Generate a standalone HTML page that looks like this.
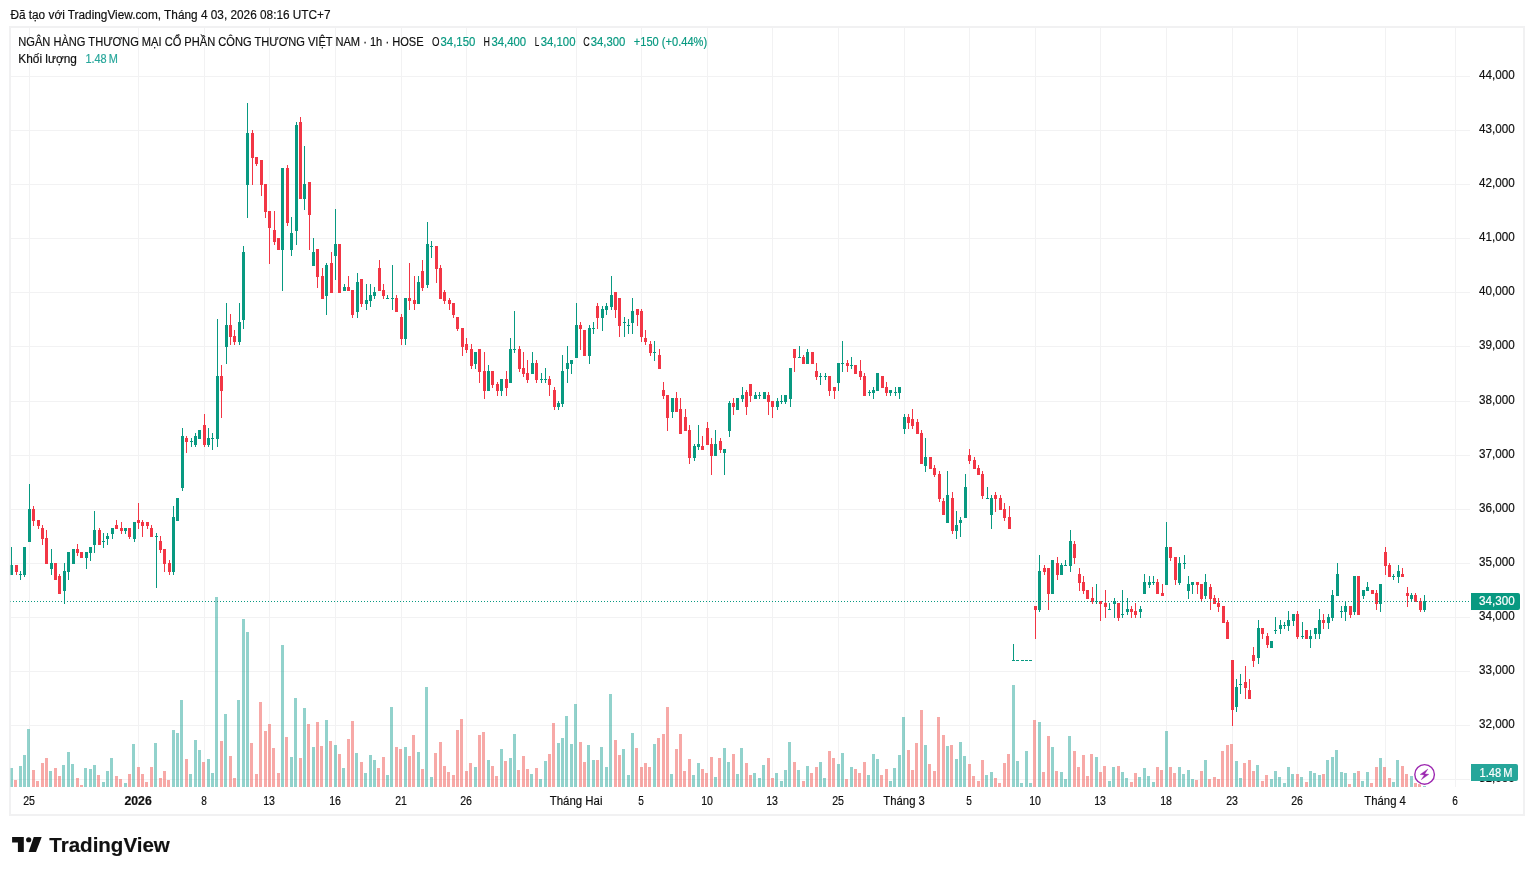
<!DOCTYPE html>
<html lang="vi"><head><meta charset="utf-8"><title>CTG 1h - TradingView</title>
<style>
html,body{margin:0;padding:0;background:#fff;width:1534px;height:875px;overflow:hidden}
svg{display:block}
text{font-family:"Liberation Sans",sans-serif;font-size:12px;fill:#101010;stroke:#101010;stroke-width:.18px}
.g{fill:#089981}.r{fill:#f23645}.vg{fill:#26a69a;fill-opacity:.5}.vr{fill:#ef5350;fill-opacity:.5}.gr{fill:#f2f2f3}
</style></head>
<body>
<svg width="1534" height="875" viewBox="0 0 1534 875">
<rect width="1534" height="875" fill="#fff"/>
<text x="10.4" y="19.0" textLength="320.2" lengthAdjust="spacingAndGlyphs">Đã tạo với TradingView.com, Tháng 4 03, 2026 08:16 UTC+7</text>
<g shape-rendering="crispEdges">
<rect x="9" y="26" width="1516" height="2" fill="#f1f1f2"/><rect x="9" y="814" width="1516" height="2" fill="#f1f1f2"/><rect x="9" y="26" width="2" height="790" fill="#f1f1f2"/><rect x="1523" y="26" width="2" height="790" fill="#f1f1f2"/>
<g class="gr"><rect x="29" y="28" width="1" height="759"/><rect x="138" y="28" width="1" height="759"/><rect x="204" y="28" width="1" height="759"/><rect x="269" y="28" width="1" height="759"/><rect x="335" y="28" width="1" height="759"/><rect x="401" y="28" width="1" height="759"/><rect x="466" y="28" width="1" height="759"/><rect x="576" y="28" width="1" height="759"/><rect x="641" y="28" width="1" height="759"/><rect x="707" y="28" width="1" height="759"/><rect x="772" y="28" width="1" height="759"/><rect x="838" y="28" width="1" height="759"/><rect x="904" y="28" width="1" height="759"/><rect x="969" y="28" width="1" height="759"/><rect x="1035" y="28" width="1" height="759"/><rect x="1100" y="28" width="1" height="759"/><rect x="1166" y="28" width="1" height="759"/><rect x="1232" y="28" width="1" height="759"/><rect x="1297" y="28" width="1" height="759"/><rect x="1385" y="28" width="1" height="759"/><rect x="1455" y="28" width="1" height="759"/><rect x="11" y="76" width="1459" height="1"/><rect x="11" y="130" width="1459" height="1"/><rect x="11" y="184" width="1459" height="1"/><rect x="11" y="238" width="1459" height="1"/><rect x="11" y="292" width="1459" height="1"/><rect x="11" y="346" width="1459" height="1"/><rect x="11" y="401" width="1459" height="1"/><rect x="11" y="455" width="1459" height="1"/><rect x="11" y="509" width="1459" height="1"/><rect x="11" y="563" width="1459" height="1"/><rect x="11" y="617" width="1459" height="1"/><rect x="11" y="671" width="1459" height="1"/><rect x="11" y="725" width="1459" height="1"/><rect x="11" y="779" width="1459" height="1"/></g>
<g class="vg"><rect x="10" y="768" width="1" height="19" opacity=".5"/><rect x="11" y="768" width="2" height="19"/><rect x="19" y="766" width="3" height="21"/><rect x="23" y="755" width="3" height="32"/><rect x="27" y="729" width="3" height="58"/><rect x="49" y="771" width="3" height="16"/><rect x="62" y="765" width="3" height="22"/><rect x="67" y="752" width="3" height="35"/><rect x="71" y="764" width="3" height="23"/><rect x="84" y="768" width="3" height="19"/><rect x="89" y="769" width="3" height="18"/><rect x="93" y="765" width="3" height="22"/><rect x="102" y="782" width="3" height="5"/><rect x="106" y="771" width="3" height="16"/><rect x="110" y="758" width="3" height="29"/><rect x="124" y="783" width="3" height="4"/><rect x="132" y="744" width="3" height="43"/><rect x="154" y="743" width="3" height="44"/><rect x="172" y="730" width="3" height="57"/><rect x="176" y="733" width="3" height="54"/><rect x="180" y="700" width="3" height="87"/><rect x="189" y="774" width="3" height="13"/><rect x="194" y="740" width="3" height="47"/><rect x="198" y="750" width="3" height="37"/><rect x="207" y="759" width="3" height="28"/><rect x="211" y="773" width="3" height="14"/><rect x="215" y="597" width="3" height="190"/><rect x="224" y="714" width="3" height="73"/><rect x="237" y="700" width="3" height="87"/><rect x="242" y="619" width="3" height="168"/><rect x="246" y="632" width="3" height="155"/><rect x="281" y="645" width="3" height="142"/><rect x="290" y="757" width="3" height="30"/><rect x="294" y="698" width="3" height="89"/><rect x="303" y="708" width="3" height="79"/><rect x="312" y="747" width="3" height="40"/><rect x="325" y="720" width="3" height="67"/><rect x="334" y="745" width="3" height="42"/><rect x="342" y="768" width="3" height="19"/><rect x="355" y="753" width="3" height="34"/><rect x="364" y="773" width="3" height="14"/><rect x="369" y="755" width="3" height="32"/><rect x="373" y="760" width="3" height="27"/><rect x="386" y="775" width="3" height="12"/><rect x="390" y="707" width="3" height="80"/><rect x="404" y="747" width="3" height="40"/><rect x="417" y="752" width="3" height="35"/><rect x="425" y="687" width="3" height="100"/><rect x="430" y="777" width="3" height="10"/><rect x="474" y="767" width="3" height="20"/><rect x="487" y="760" width="3" height="27"/><rect x="500" y="749" width="3" height="38"/><rect x="509" y="758" width="3" height="29"/><rect x="513" y="734" width="3" height="53"/><rect x="530" y="774" width="3" height="13"/><rect x="539" y="779" width="3" height="8"/><rect x="544" y="761" width="3" height="26"/><rect x="557" y="743" width="3" height="44"/><rect x="561" y="738" width="3" height="49"/><rect x="565" y="716" width="3" height="71"/><rect x="570" y="744" width="3" height="43"/><rect x="574" y="704" width="3" height="83"/><rect x="587" y="745" width="3" height="42"/><rect x="592" y="760" width="3" height="27"/><rect x="600" y="747" width="3" height="40"/><rect x="605" y="767" width="3" height="20"/><rect x="609" y="694" width="3" height="93"/><rect x="622" y="749" width="3" height="38"/><rect x="627" y="775" width="3" height="12"/><rect x="631" y="733" width="3" height="54"/><rect x="653" y="744" width="3" height="43"/><rect x="670" y="774" width="3" height="13"/><rect x="692" y="775" width="3" height="12"/><rect x="697" y="763" width="3" height="24"/><rect x="714" y="777" width="3" height="10"/><rect x="723" y="748" width="3" height="39"/><rect x="727" y="762" width="3" height="25"/><rect x="736" y="774" width="3" height="13"/><rect x="740" y="748" width="3" height="39"/><rect x="753" y="773" width="3" height="14"/><rect x="758" y="778" width="3" height="9"/><rect x="762" y="765" width="3" height="22"/><rect x="775" y="773" width="3" height="14"/><rect x="780" y="781" width="3" height="6"/><rect x="784" y="770" width="3" height="17"/><rect x="788" y="742" width="3" height="45"/><rect x="797" y="770" width="3" height="17"/><rect x="806" y="766" width="3" height="21"/><rect x="819" y="762" width="3" height="25"/><rect x="823" y="778" width="3" height="9"/><rect x="837" y="764" width="3" height="23"/><rect x="841" y="753" width="3" height="34"/><rect x="850" y="767" width="3" height="20"/><rect x="867" y="775" width="3" height="12"/><rect x="872" y="754" width="3" height="33"/><rect x="876" y="759" width="3" height="28"/><rect x="889" y="781" width="3" height="6"/><rect x="893" y="768" width="3" height="19"/><rect x="898" y="755" width="3" height="32"/><rect x="902" y="717" width="3" height="70"/><rect x="924" y="745" width="3" height="42"/><rect x="946" y="746" width="3" height="41"/><rect x="955" y="759" width="3" height="28"/><rect x="959" y="742" width="3" height="45"/><rect x="963" y="756" width="3" height="31"/><rect x="985" y="775" width="3" height="12"/><rect x="990" y="772" width="3" height="15"/><rect x="1012" y="685" width="3" height="102"/><rect x="1016" y="761" width="3" height="26"/><rect x="1020" y="783" width="3" height="4"/><rect x="1025" y="751" width="3" height="36"/><rect x="1029" y="783" width="3" height="4"/><rect x="1038" y="722" width="3" height="65"/><rect x="1051" y="747" width="3" height="40"/><rect x="1060" y="772" width="3" height="15"/><rect x="1064" y="779" width="3" height="8"/><rect x="1068" y="736" width="3" height="51"/><rect x="1095" y="757" width="3" height="30"/><rect x="1108" y="781" width="3" height="6"/><rect x="1112" y="767" width="3" height="20"/><rect x="1121" y="772" width="3" height="15"/><rect x="1125" y="778" width="3" height="9"/><rect x="1138" y="777" width="3" height="10"/><rect x="1143" y="768" width="3" height="19"/><rect x="1147" y="776" width="3" height="11"/><rect x="1152" y="782" width="3" height="5"/><rect x="1165" y="731" width="3" height="56"/><rect x="1178" y="767" width="3" height="20"/><rect x="1182" y="774" width="3" height="13"/><rect x="1187" y="770" width="3" height="17"/><rect x="1191" y="779" width="3" height="8"/><rect x="1204" y="760" width="3" height="27"/><rect x="1235" y="761" width="3" height="26"/><rect x="1239" y="778" width="3" height="9"/><rect x="1256" y="765" width="3" height="22"/><rect x="1270" y="779" width="3" height="8"/><rect x="1274" y="771" width="3" height="16"/><rect x="1278" y="777" width="3" height="10"/><rect x="1283" y="783" width="3" height="4"/><rect x="1287" y="767" width="3" height="20"/><rect x="1291" y="774" width="3" height="13"/><rect x="1300" y="777" width="3" height="10"/><rect x="1309" y="771" width="3" height="16"/><rect x="1313" y="773" width="3" height="14"/><rect x="1318" y="775" width="3" height="12"/><rect x="1326" y="760" width="3" height="27"/><rect x="1331" y="757" width="3" height="30"/><rect x="1335" y="750" width="3" height="37"/><rect x="1340" y="772" width="3" height="15"/><rect x="1344" y="773" width="3" height="14"/><rect x="1353" y="773" width="3" height="14"/><rect x="1361" y="781" width="3" height="6"/><rect x="1366" y="772" width="3" height="15"/><rect x="1379" y="758" width="3" height="29"/><rect x="1392" y="782" width="3" height="5"/><rect x="1396" y="760" width="3" height="27"/><rect x="1410" y="776" width="3" height="11"/><rect x="1423" y="786" width="3" height="1"/></g>
<g class="vr"><rect x="14" y="780" width="3" height="7"/><rect x="32" y="770" width="3" height="17"/><rect x="36" y="781" width="3" height="6"/><rect x="41" y="763" width="3" height="24"/><rect x="45" y="758" width="3" height="29"/><rect x="54" y="768" width="3" height="19"/><rect x="58" y="776" width="3" height="11"/><rect x="76" y="778" width="3" height="9"/><rect x="80" y="785" width="3" height="2"/><rect x="97" y="775" width="3" height="12"/><rect x="115" y="776" width="3" height="11"/><rect x="119" y="779" width="3" height="8"/><rect x="128" y="774" width="3" height="13"/><rect x="137" y="767" width="3" height="20"/><rect x="141" y="774" width="3" height="13"/><rect x="145" y="782" width="3" height="5"/><rect x="150" y="767" width="3" height="20"/><rect x="159" y="778" width="3" height="9"/><rect x="163" y="771" width="3" height="16"/><rect x="167" y="780" width="3" height="7"/><rect x="185" y="759" width="3" height="28"/><rect x="202" y="762" width="3" height="25"/><rect x="220" y="741" width="3" height="46"/><rect x="229" y="756" width="3" height="31"/><rect x="233" y="778" width="3" height="9"/><rect x="250" y="743" width="3" height="44"/><rect x="255" y="774" width="3" height="13"/><rect x="259" y="702" width="3" height="85"/><rect x="264" y="731" width="3" height="56"/><rect x="268" y="724" width="3" height="63"/><rect x="272" y="748" width="3" height="39"/><rect x="277" y="773" width="3" height="14"/><rect x="285" y="737" width="3" height="50"/><rect x="299" y="758" width="3" height="29"/><rect x="307" y="724" width="3" height="63"/><rect x="316" y="722" width="3" height="65"/><rect x="320" y="746" width="3" height="41"/><rect x="329" y="741" width="3" height="46"/><rect x="338" y="754" width="3" height="33"/><rect x="347" y="739" width="3" height="48"/><rect x="351" y="721" width="3" height="66"/><rect x="360" y="762" width="3" height="25"/><rect x="377" y="768" width="3" height="19"/><rect x="382" y="757" width="3" height="30"/><rect x="395" y="747" width="3" height="40"/><rect x="399" y="749" width="3" height="38"/><rect x="408" y="756" width="3" height="31"/><rect x="412" y="735" width="3" height="52"/><rect x="421" y="769" width="3" height="18"/><rect x="434" y="753" width="3" height="34"/><rect x="439" y="742" width="3" height="45"/><rect x="443" y="766" width="3" height="21"/><rect x="447" y="772" width="3" height="15"/><rect x="452" y="775" width="3" height="12"/><rect x="456" y="730" width="3" height="57"/><rect x="460" y="719" width="3" height="68"/><rect x="465" y="771" width="3" height="16"/><rect x="469" y="763" width="3" height="24"/><rect x="478" y="735" width="3" height="52"/><rect x="482" y="732" width="3" height="55"/><rect x="491" y="766" width="3" height="21"/><rect x="495" y="776" width="3" height="11"/><rect x="504" y="761" width="3" height="26"/><rect x="517" y="770" width="3" height="17"/><rect x="522" y="756" width="3" height="31"/><rect x="526" y="769" width="3" height="18"/><rect x="535" y="768" width="3" height="19"/><rect x="548" y="754" width="3" height="33"/><rect x="552" y="723" width="3" height="64"/><rect x="579" y="742" width="3" height="45"/><rect x="583" y="762" width="3" height="25"/><rect x="596" y="760" width="3" height="27"/><rect x="614" y="740" width="3" height="47"/><rect x="618" y="755" width="3" height="32"/><rect x="635" y="748" width="3" height="39"/><rect x="640" y="767" width="3" height="20"/><rect x="644" y="763" width="3" height="24"/><rect x="648" y="767" width="3" height="20"/><rect x="657" y="738" width="3" height="49"/><rect x="662" y="734" width="3" height="53"/><rect x="666" y="707" width="3" height="80"/><rect x="675" y="749" width="3" height="38"/><rect x="679" y="734" width="3" height="53"/><rect x="683" y="771" width="3" height="16"/><rect x="688" y="759" width="3" height="28"/><rect x="701" y="769" width="3" height="18"/><rect x="705" y="773" width="3" height="14"/><rect x="710" y="757" width="3" height="30"/><rect x="718" y="758" width="3" height="29"/><rect x="732" y="754" width="3" height="33"/><rect x="745" y="763" width="3" height="24"/><rect x="749" y="775" width="3" height="12"/><rect x="767" y="758" width="3" height="29"/><rect x="771" y="778" width="3" height="9"/><rect x="793" y="762" width="3" height="25"/><rect x="802" y="781" width="3" height="6"/><rect x="810" y="773" width="3" height="14"/><rect x="815" y="767" width="3" height="20"/><rect x="828" y="751" width="3" height="36"/><rect x="832" y="758" width="3" height="29"/><rect x="845" y="779" width="3" height="8"/><rect x="854" y="769" width="3" height="18"/><rect x="858" y="773" width="3" height="14"/><rect x="863" y="762" width="3" height="25"/><rect x="880" y="775" width="3" height="12"/><rect x="885" y="769" width="3" height="18"/><rect x="907" y="750" width="3" height="37"/><rect x="911" y="770" width="3" height="17"/><rect x="915" y="743" width="3" height="44"/><rect x="920" y="710" width="3" height="77"/><rect x="928" y="764" width="3" height="23"/><rect x="933" y="771" width="3" height="16"/><rect x="937" y="717" width="3" height="70"/><rect x="942" y="735" width="3" height="52"/><rect x="950" y="745" width="3" height="42"/><rect x="968" y="764" width="3" height="23"/><rect x="972" y="776" width="3" height="11"/><rect x="977" y="781" width="3" height="6"/><rect x="981" y="760" width="3" height="27"/><rect x="994" y="778" width="3" height="9"/><rect x="998" y="783" width="3" height="4"/><rect x="1003" y="763" width="3" height="24"/><rect x="1007" y="754" width="3" height="33"/><rect x="1033" y="720" width="3" height="67"/><rect x="1042" y="772" width="3" height="15"/><rect x="1047" y="736" width="3" height="51"/><rect x="1055" y="771" width="3" height="16"/><rect x="1073" y="751" width="3" height="36"/><rect x="1077" y="767" width="3" height="20"/><rect x="1082" y="755" width="3" height="32"/><rect x="1086" y="776" width="3" height="11"/><rect x="1090" y="754" width="3" height="33"/><rect x="1099" y="772" width="3" height="15"/><rect x="1103" y="766" width="3" height="21"/><rect x="1117" y="766" width="3" height="21"/><rect x="1130" y="782" width="3" height="5"/><rect x="1134" y="773" width="3" height="14"/><rect x="1156" y="767" width="3" height="20"/><rect x="1160" y="770" width="3" height="17"/><rect x="1169" y="767" width="3" height="20"/><rect x="1173" y="773" width="3" height="14"/><rect x="1195" y="780" width="3" height="7"/><rect x="1200" y="771" width="3" height="16"/><rect x="1208" y="779" width="3" height="8"/><rect x="1213" y="777" width="3" height="10"/><rect x="1217" y="779" width="3" height="8"/><rect x="1221" y="751" width="3" height="36"/><rect x="1226" y="745" width="3" height="42"/><rect x="1230" y="744" width="3" height="43"/><rect x="1243" y="763" width="3" height="24"/><rect x="1248" y="760" width="3" height="27"/><rect x="1252" y="771" width="3" height="16"/><rect x="1261" y="781" width="3" height="6"/><rect x="1265" y="775" width="3" height="12"/><rect x="1296" y="774" width="3" height="13"/><rect x="1305" y="782" width="3" height="5"/><rect x="1322" y="774" width="3" height="13"/><rect x="1348" y="784" width="3" height="3"/><rect x="1357" y="771" width="3" height="16"/><rect x="1370" y="783" width="3" height="4"/><rect x="1375" y="767" width="3" height="20"/><rect x="1383" y="767" width="3" height="20"/><rect x="1388" y="778" width="3" height="9"/><rect x="1401" y="766" width="3" height="21"/><rect x="1405" y="774" width="3" height="13"/><rect x="1414" y="783" width="3" height="4"/><rect x="1418" y="784" width="3" height="3"/></g>
<g class="g"><rect x="11" y="547" width="1" height="28"/><rect x="10" y="565" width="1" height="10" opacity=".5"/><rect x="11" y="565" width="2" height="10"/><rect x="20" y="571" width="1" height="9"/><rect x="19" y="574" width="3" height="1"/><rect x="24" y="547" width="1" height="30"/><rect x="23" y="547" width="3" height="28"/><rect x="29" y="484" width="1" height="58"/><rect x="28" y="509" width="3" height="33"/><rect x="51" y="549" width="1" height="26"/><rect x="50" y="563" width="3" height="6"/><rect x="64" y="563" width="1" height="41"/><rect x="63" y="571" width="3" height="20"/><rect x="68" y="552" width="1" height="28"/><rect x="67" y="552" width="3" height="20"/><rect x="72" y="549" width="3" height="15"/><rect x="86" y="552" width="1" height="17"/><rect x="85" y="552" width="3" height="6"/><rect x="90" y="547" width="1" height="14"/><rect x="89" y="547" width="3" height="6"/><rect x="94" y="511" width="1" height="42"/><rect x="93" y="530" width="3" height="15"/><rect x="103" y="533" width="1" height="15"/><rect x="102" y="541" width="3" height="1"/><rect x="107" y="533" width="1" height="12"/><rect x="106" y="536" width="3" height="3"/><rect x="112" y="528" width="1" height="11"/><rect x="111" y="528" width="3" height="6"/><rect x="125" y="528" width="1" height="6"/><rect x="124" y="528" width="3" height="3"/><rect x="134" y="522" width="1" height="20"/><rect x="133" y="522" width="3" height="17"/><rect x="156" y="533" width="1" height="55"/><rect x="155" y="536" width="3" height="1"/><rect x="173" y="506" width="1" height="69"/><rect x="172" y="517" width="3" height="55"/><rect x="176" y="498" width="3" height="23"/><rect x="182" y="428" width="1" height="63"/><rect x="181" y="436" width="3" height="52"/><rect x="191" y="438" width="1" height="9"/><rect x="190" y="441" width="3" height="1"/><rect x="195" y="433" width="1" height="14"/><rect x="194" y="436" width="3" height="9"/><rect x="198" y="430" width="3" height="9"/><rect x="208" y="428" width="1" height="19"/><rect x="207" y="438" width="3" height="7"/><rect x="212" y="433" width="1" height="17"/><rect x="211" y="438" width="3" height="1"/><rect x="217" y="319" width="1" height="128"/><rect x="216" y="376" width="3" height="63"/><rect x="226" y="303" width="1" height="61"/><rect x="225" y="325" width="3" height="22"/><rect x="239" y="303" width="1" height="42"/><rect x="238" y="322" width="3" height="20"/><rect x="243" y="246" width="1" height="83"/><rect x="242" y="252" width="3" height="68"/><rect x="247" y="103" width="1" height="115"/><rect x="246" y="133" width="3" height="52"/><rect x="282" y="168" width="1" height="123"/><rect x="281" y="168" width="3" height="82"/><rect x="291" y="217" width="1" height="39"/><rect x="290" y="233" width="3" height="17"/><rect x="296" y="122" width="1" height="123"/><rect x="295" y="125" width="3" height="106"/><rect x="304" y="146" width="1" height="64"/><rect x="303" y="184" width="3" height="15"/><rect x="313" y="238" width="1" height="28"/><rect x="312" y="252" width="3" height="14"/><rect x="326" y="263" width="1" height="52"/><rect x="325" y="265" width="3" height="31"/><rect x="335" y="209" width="1" height="71"/><rect x="334" y="244" width="3" height="12"/><rect x="344" y="284" width="1" height="7"/><rect x="343" y="287" width="3" height="4"/><rect x="357" y="273" width="1" height="45"/><rect x="356" y="282" width="3" height="30"/><rect x="366" y="284" width="1" height="26"/><rect x="365" y="300" width="3" height="4"/><rect x="370" y="284" width="1" height="23"/><rect x="369" y="295" width="3" height="6"/><rect x="374" y="287" width="1" height="12"/><rect x="373" y="292" width="3" height="4"/><rect x="387" y="295" width="1" height="4"/><rect x="386" y="298" width="3" height="1"/><rect x="392" y="265" width="1" height="45"/><rect x="391" y="298" width="3" height="1"/><rect x="405" y="298" width="1" height="47"/><rect x="404" y="298" width="3" height="41"/><rect x="418" y="276" width="1" height="28"/><rect x="417" y="282" width="3" height="22"/><rect x="427" y="222" width="1" height="66"/><rect x="426" y="244" width="3" height="41"/><rect x="431" y="241" width="1" height="17"/><rect x="430" y="246" width="3" height="1"/><rect x="475" y="352" width="1" height="17"/><rect x="474" y="352" width="3" height="12"/><rect x="488" y="365" width="1" height="26"/><rect x="487" y="371" width="3" height="20"/><rect x="501" y="379" width="1" height="17"/><rect x="500" y="379" width="3" height="12"/><rect x="510" y="338" width="1" height="45"/><rect x="509" y="349" width="3" height="34"/><rect x="514" y="311" width="1" height="42"/><rect x="513" y="349" width="3" height="1"/><rect x="532" y="352" width="1" height="22"/><rect x="531" y="363" width="3" height="11"/><rect x="541" y="373" width="1" height="10"/><rect x="540" y="379" width="3" height="1"/><rect x="545" y="368" width="1" height="15"/><rect x="544" y="379" width="3" height="1"/><rect x="558" y="401" width="1" height="9"/><rect x="557" y="403" width="3" height="4"/><rect x="562" y="355" width="1" height="52"/><rect x="561" y="371" width="3" height="33"/><rect x="567" y="346" width="1" height="37"/><rect x="566" y="363" width="3" height="6"/><rect x="571" y="360" width="1" height="14"/><rect x="570" y="360" width="3" height="4"/><rect x="576" y="303" width="1" height="55"/><rect x="575" y="325" width="3" height="33"/><rect x="589" y="325" width="1" height="39"/><rect x="588" y="328" width="3" height="28"/><rect x="593" y="322" width="1" height="12"/><rect x="592" y="328" width="3" height="1"/><rect x="602" y="306" width="1" height="25"/><rect x="601" y="309" width="3" height="9"/><rect x="606" y="303" width="1" height="12"/><rect x="605" y="306" width="3" height="4"/><rect x="611" y="276" width="1" height="34"/><rect x="610" y="295" width="3" height="12"/><rect x="624" y="317" width="1" height="20"/><rect x="623" y="322" width="3" height="1"/><rect x="628" y="319" width="1" height="15"/><rect x="627" y="325" width="3" height="1"/><rect x="632" y="298" width="1" height="36"/><rect x="631" y="311" width="3" height="12"/><rect x="654" y="341" width="1" height="20"/><rect x="653" y="352" width="3" height="1"/><rect x="672" y="398" width="1" height="20"/><rect x="671" y="398" width="3" height="14"/><rect x="694" y="444" width="1" height="17"/><rect x="693" y="446" width="3" height="12"/><rect x="698" y="425" width="1" height="25"/><rect x="697" y="444" width="3" height="3"/><rect x="715" y="430" width="1" height="26"/><rect x="714" y="444" width="3" height="12"/><rect x="724" y="449" width="1" height="26"/><rect x="723" y="449" width="3" height="4"/><rect x="729" y="401" width="1" height="36"/><rect x="728" y="403" width="3" height="28"/><rect x="736" y="398" width="3" height="12"/><rect x="742" y="387" width="1" height="15"/><rect x="741" y="395" width="3" height="4"/><rect x="755" y="392" width="1" height="7"/><rect x="754" y="395" width="3" height="4"/><rect x="759" y="392" width="1" height="7"/><rect x="758" y="395" width="3" height="1"/><rect x="763" y="392" width="3" height="7"/><rect x="777" y="398" width="1" height="12"/><rect x="776" y="401" width="3" height="6"/><rect x="781" y="395" width="1" height="9"/><rect x="780" y="401" width="3" height="1"/><rect x="785" y="395" width="1" height="9"/><rect x="784" y="395" width="3" height="7"/><rect x="790" y="368" width="1" height="39"/><rect x="789" y="368" width="3" height="31"/><rect x="799" y="346" width="1" height="12"/><rect x="798" y="357" width="3" height="1"/><rect x="807" y="349" width="1" height="15"/><rect x="806" y="352" width="3" height="12"/><rect x="820" y="373" width="1" height="12"/><rect x="819" y="376" width="3" height="1"/><rect x="825" y="373" width="1" height="7"/><rect x="824" y="376" width="3" height="1"/><rect x="838" y="363" width="1" height="28"/><rect x="837" y="363" width="3" height="20"/><rect x="842" y="341" width="1" height="31"/><rect x="841" y="363" width="3" height="1"/><rect x="851" y="357" width="1" height="12"/><rect x="850" y="365" width="3" height="1"/><rect x="869" y="390" width="1" height="6"/><rect x="868" y="392" width="3" height="1"/><rect x="873" y="387" width="1" height="12"/><rect x="872" y="390" width="3" height="3"/><rect x="876" y="373" width="3" height="18"/><rect x="890" y="390" width="1" height="6"/><rect x="889" y="390" width="3" height="3"/><rect x="895" y="387" width="1" height="9"/><rect x="894" y="392" width="3" height="1"/><rect x="899" y="387" width="1" height="12"/><rect x="898" y="387" width="3" height="6"/><rect x="904" y="414" width="1" height="20"/><rect x="903" y="417" width="3" height="12"/><rect x="925" y="438" width="1" height="34"/><rect x="924" y="457" width="3" height="9"/><rect x="947" y="471" width="1" height="52"/><rect x="946" y="495" width="3" height="28"/><rect x="956" y="511" width="1" height="28"/><rect x="955" y="525" width="3" height="6"/><rect x="960" y="517" width="1" height="20"/><rect x="959" y="520" width="3" height="3"/><rect x="965" y="474" width="1" height="44"/><rect x="964" y="487" width="3" height="31"/><rect x="987" y="487" width="1" height="12"/><rect x="986" y="498" width="3" height="1"/><rect x="991" y="495" width="1" height="34"/><rect x="990" y="498" width="3" height="17"/><rect x="1013" y="644" width="1" height="17"/><rect x="1012" y="660" width="3" height="1"/><rect x="1016" y="660" width="3" height="1"/><rect x="1021" y="660" width="3" height="1"/><rect x="1025" y="660" width="3" height="1"/><rect x="1029" y="660" width="3" height="1"/><rect x="1039" y="555" width="1" height="57"/><rect x="1038" y="571" width="3" height="39"/><rect x="1051" y="560" width="3" height="34"/><rect x="1061" y="563" width="1" height="12"/><rect x="1060" y="565" width="3" height="10"/><rect x="1065" y="560" width="1" height="6"/><rect x="1064" y="565" width="3" height="1"/><rect x="1070" y="530" width="1" height="42"/><rect x="1069" y="541" width="3" height="25"/><rect x="1096" y="584" width="1" height="20"/><rect x="1095" y="601" width="3" height="1"/><rect x="1109" y="603" width="1" height="7"/><rect x="1108" y="609" width="3" height="1"/><rect x="1114" y="598" width="1" height="20"/><rect x="1113" y="601" width="3" height="3"/><rect x="1122" y="590" width="1" height="28"/><rect x="1121" y="614" width="3" height="1"/><rect x="1127" y="598" width="1" height="17"/><rect x="1126" y="609" width="3" height="3"/><rect x="1140" y="606" width="1" height="12"/><rect x="1139" y="609" width="3" height="3"/><rect x="1144" y="574" width="1" height="20"/><rect x="1143" y="582" width="3" height="12"/><rect x="1149" y="576" width="1" height="12"/><rect x="1148" y="582" width="3" height="3"/><rect x="1153" y="576" width="1" height="9"/><rect x="1152" y="582" width="3" height="1"/><rect x="1166" y="522" width="1" height="63"/><rect x="1165" y="547" width="3" height="38"/><rect x="1179" y="557" width="1" height="28"/><rect x="1178" y="563" width="3" height="20"/><rect x="1184" y="555" width="1" height="14"/><rect x="1183" y="563" width="3" height="1"/><rect x="1188" y="576" width="1" height="23"/><rect x="1187" y="584" width="3" height="7"/><rect x="1192" y="582" width="1" height="12"/><rect x="1191" y="582" width="3" height="3"/><rect x="1205" y="574" width="1" height="25"/><rect x="1204" y="582" width="3" height="14"/><rect x="1236" y="679" width="1" height="33"/><rect x="1235" y="687" width="3" height="20"/><rect x="1240" y="674" width="1" height="20"/><rect x="1239" y="684" width="3" height="1"/><rect x="1258" y="620" width="1" height="44"/><rect x="1257" y="628" width="3" height="30"/><rect x="1270" y="641" width="3" height="7"/><rect x="1275" y="617" width="1" height="17"/><rect x="1274" y="630" width="3" height="1"/><rect x="1280" y="620" width="1" height="14"/><rect x="1279" y="625" width="3" height="4"/><rect x="1284" y="622" width="1" height="7"/><rect x="1283" y="625" width="3" height="1"/><rect x="1288" y="611" width="1" height="20"/><rect x="1287" y="620" width="3" height="6"/><rect x="1293" y="614" width="1" height="12"/><rect x="1292" y="614" width="3" height="7"/><rect x="1302" y="622" width="1" height="17"/><rect x="1301" y="636" width="3" height="1"/><rect x="1310" y="630" width="1" height="18"/><rect x="1309" y="636" width="3" height="3"/><rect x="1315" y="628" width="1" height="11"/><rect x="1314" y="628" width="3" height="6"/><rect x="1319" y="609" width="1" height="30"/><rect x="1318" y="620" width="3" height="14"/><rect x="1328" y="614" width="1" height="15"/><rect x="1327" y="617" width="3" height="6"/><rect x="1332" y="590" width="1" height="31"/><rect x="1331" y="595" width="3" height="23"/><rect x="1337" y="563" width="1" height="33"/><rect x="1336" y="574" width="3" height="22"/><rect x="1341" y="606" width="1" height="12"/><rect x="1340" y="611" width="3" height="1"/><rect x="1345" y="601" width="1" height="20"/><rect x="1344" y="606" width="3" height="6"/><rect x="1354" y="576" width="1" height="39"/><rect x="1353" y="576" width="3" height="36"/><rect x="1363" y="590" width="1" height="9"/><rect x="1362" y="590" width="3" height="6"/><rect x="1367" y="582" width="1" height="9"/><rect x="1366" y="587" width="3" height="4"/><rect x="1380" y="584" width="1" height="28"/><rect x="1379" y="584" width="3" height="20"/><rect x="1393" y="574" width="1" height="6"/><rect x="1392" y="576" width="3" height="1"/><rect x="1398" y="565" width="1" height="18"/><rect x="1397" y="571" width="3" height="6"/><rect x="1411" y="593" width="1" height="9"/><rect x="1410" y="595" width="3" height="4"/><rect x="1424" y="595" width="1" height="17"/><rect x="1423" y="601" width="3" height="9"/></g>
<g class="r"><rect x="16" y="565" width="1" height="10"/><rect x="15" y="565" width="3" height="7"/><rect x="33" y="506" width="1" height="20"/><rect x="32" y="509" width="3" height="12"/><rect x="38" y="520" width="1" height="9"/><rect x="37" y="520" width="3" height="6"/><rect x="42" y="525" width="1" height="20"/><rect x="41" y="528" width="3" height="11"/><rect x="46" y="530" width="1" height="34"/><rect x="45" y="538" width="3" height="26"/><rect x="54" y="563" width="3" height="17"/><rect x="59" y="574" width="1" height="20"/><rect x="58" y="576" width="3" height="18"/><rect x="77" y="544" width="1" height="12"/><rect x="76" y="549" width="3" height="4"/><rect x="80" y="552" width="3" height="6"/><rect x="99" y="528" width="1" height="17"/><rect x="98" y="530" width="3" height="15"/><rect x="116" y="520" width="1" height="9"/><rect x="115" y="525" width="3" height="4"/><rect x="121" y="522" width="1" height="12"/><rect x="120" y="528" width="3" height="3"/><rect x="129" y="528" width="1" height="11"/><rect x="128" y="528" width="3" height="9"/><rect x="138" y="503" width="1" height="26"/><rect x="137" y="520" width="3" height="3"/><rect x="142" y="520" width="1" height="17"/><rect x="141" y="522" width="3" height="4"/><rect x="147" y="522" width="1" height="7"/><rect x="146" y="522" width="3" height="4"/><rect x="151" y="525" width="1" height="12"/><rect x="150" y="528" width="3" height="9"/><rect x="160" y="536" width="1" height="17"/><rect x="159" y="541" width="3" height="9"/><rect x="164" y="549" width="1" height="23"/><rect x="163" y="549" width="3" height="15"/><rect x="169" y="560" width="1" height="15"/><rect x="168" y="563" width="3" height="9"/><rect x="186" y="436" width="1" height="17"/><rect x="185" y="438" width="3" height="4"/><rect x="204" y="414" width="1" height="33"/><rect x="203" y="425" width="3" height="20"/><rect x="221" y="365" width="1" height="53"/><rect x="220" y="376" width="3" height="15"/><rect x="230" y="314" width="1" height="31"/><rect x="229" y="325" width="3" height="12"/><rect x="234" y="330" width="1" height="15"/><rect x="233" y="336" width="3" height="6"/><rect x="252" y="130" width="1" height="55"/><rect x="251" y="133" width="3" height="25"/><rect x="256" y="157" width="1" height="9"/><rect x="255" y="157" width="3" height="7"/><rect x="261" y="160" width="1" height="36"/><rect x="260" y="160" width="3" height="25"/><rect x="265" y="184" width="1" height="34"/><rect x="264" y="184" width="3" height="28"/><rect x="269" y="211" width="1" height="53"/><rect x="268" y="211" width="3" height="17"/><rect x="274" y="211" width="1" height="34"/><rect x="273" y="230" width="3" height="12"/><rect x="277" y="238" width="3" height="12"/><rect x="287" y="165" width="1" height="61"/><rect x="286" y="168" width="3" height="55"/><rect x="300" y="117" width="1" height="82"/><rect x="299" y="122" width="3" height="77"/><rect x="309" y="182" width="1" height="68"/><rect x="308" y="182" width="3" height="33"/><rect x="317" y="249" width="1" height="39"/><rect x="316" y="249" width="3" height="28"/><rect x="322" y="268" width="1" height="31"/><rect x="321" y="276" width="3" height="23"/><rect x="331" y="252" width="1" height="41"/><rect x="330" y="263" width="3" height="30"/><rect x="338" y="244" width="3" height="49"/><rect x="348" y="276" width="1" height="15"/><rect x="347" y="287" width="3" height="4"/><rect x="352" y="290" width="1" height="28"/><rect x="351" y="290" width="3" height="25"/><rect x="361" y="279" width="1" height="28"/><rect x="360" y="279" width="3" height="25"/><rect x="379" y="260" width="1" height="31"/><rect x="378" y="268" width="3" height="23"/><rect x="383" y="284" width="1" height="15"/><rect x="382" y="290" width="3" height="6"/><rect x="396" y="295" width="1" height="17"/><rect x="395" y="298" width="3" height="14"/><rect x="401" y="314" width="1" height="31"/><rect x="400" y="317" width="3" height="22"/><rect x="409" y="263" width="1" height="47"/><rect x="408" y="298" width="3" height="3"/><rect x="414" y="276" width="1" height="34"/><rect x="413" y="300" width="3" height="4"/><rect x="422" y="260" width="1" height="31"/><rect x="421" y="271" width="3" height="17"/><rect x="436" y="246" width="1" height="37"/><rect x="435" y="246" width="3" height="23"/><rect x="440" y="265" width="1" height="34"/><rect x="439" y="268" width="3" height="31"/><rect x="444" y="290" width="1" height="14"/><rect x="443" y="292" width="3" height="9"/><rect x="449" y="298" width="1" height="12"/><rect x="448" y="300" width="3" height="4"/><rect x="453" y="303" width="1" height="15"/><rect x="452" y="303" width="3" height="12"/><rect x="457" y="317" width="1" height="14"/><rect x="456" y="317" width="3" height="12"/><rect x="462" y="328" width="1" height="28"/><rect x="461" y="328" width="3" height="19"/><rect x="466" y="338" width="1" height="15"/><rect x="465" y="344" width="3" height="6"/><rect x="471" y="344" width="1" height="25"/><rect x="470" y="349" width="3" height="17"/><rect x="479" y="349" width="1" height="34"/><rect x="478" y="349" width="3" height="23"/><rect x="484" y="352" width="1" height="47"/><rect x="483" y="371" width="3" height="20"/><rect x="492" y="371" width="1" height="17"/><rect x="491" y="371" width="3" height="14"/><rect x="497" y="382" width="1" height="14"/><rect x="496" y="384" width="3" height="7"/><rect x="506" y="371" width="1" height="25"/><rect x="505" y="379" width="3" height="9"/><rect x="519" y="346" width="1" height="26"/><rect x="518" y="349" width="3" height="20"/><rect x="523" y="352" width="1" height="25"/><rect x="522" y="368" width="3" height="6"/><rect x="527" y="360" width="1" height="23"/><rect x="526" y="373" width="3" height="7"/><rect x="536" y="360" width="1" height="23"/><rect x="535" y="363" width="3" height="17"/><rect x="549" y="376" width="1" height="20"/><rect x="548" y="379" width="3" height="6"/><rect x="554" y="387" width="1" height="23"/><rect x="553" y="390" width="3" height="17"/><rect x="580" y="322" width="1" height="28"/><rect x="579" y="325" width="3" height="4"/><rect x="583" y="330" width="3" height="26"/><rect x="597" y="303" width="1" height="26"/><rect x="596" y="306" width="3" height="12"/><rect x="615" y="292" width="1" height="26"/><rect x="614" y="292" width="3" height="18"/><rect x="619" y="298" width="1" height="39"/><rect x="618" y="298" width="3" height="28"/><rect x="637" y="309" width="1" height="17"/><rect x="636" y="309" width="3" height="6"/><rect x="641" y="309" width="1" height="33"/><rect x="640" y="311" width="3" height="26"/><rect x="645" y="330" width="1" height="15"/><rect x="644" y="338" width="3" height="4"/><rect x="650" y="341" width="1" height="15"/><rect x="649" y="344" width="3" height="9"/><rect x="659" y="349" width="1" height="20"/><rect x="658" y="355" width="3" height="14"/><rect x="663" y="382" width="1" height="17"/><rect x="662" y="390" width="3" height="6"/><rect x="667" y="395" width="1" height="36"/><rect x="666" y="395" width="3" height="23"/><rect x="676" y="392" width="1" height="20"/><rect x="675" y="398" width="3" height="14"/><rect x="680" y="398" width="1" height="36"/><rect x="679" y="409" width="3" height="25"/><rect x="685" y="409" width="1" height="22"/><rect x="684" y="417" width="3" height="14"/><rect x="689" y="425" width="1" height="39"/><rect x="688" y="430" width="3" height="28"/><rect x="702" y="436" width="1" height="14"/><rect x="701" y="446" width="3" height="4"/><rect x="707" y="422" width="1" height="23"/><rect x="706" y="428" width="3" height="17"/><rect x="711" y="438" width="1" height="37"/><rect x="710" y="444" width="3" height="12"/><rect x="720" y="438" width="1" height="15"/><rect x="719" y="441" width="3" height="9"/><rect x="733" y="398" width="1" height="17"/><rect x="732" y="403" width="3" height="4"/><rect x="746" y="390" width="1" height="25"/><rect x="745" y="392" width="3" height="15"/><rect x="750" y="384" width="1" height="18"/><rect x="749" y="384" width="3" height="12"/><rect x="768" y="392" width="1" height="23"/><rect x="767" y="395" width="3" height="7"/><rect x="772" y="401" width="1" height="17"/><rect x="771" y="401" width="3" height="6"/><rect x="794" y="349" width="1" height="23"/><rect x="793" y="349" width="3" height="9"/><rect x="803" y="355" width="1" height="9"/><rect x="802" y="357" width="3" height="7"/><rect x="811" y="352" width="3" height="12"/><rect x="816" y="363" width="1" height="17"/><rect x="815" y="371" width="3" height="6"/><rect x="829" y="376" width="1" height="20"/><rect x="828" y="376" width="3" height="15"/><rect x="834" y="387" width="1" height="12"/><rect x="833" y="387" width="3" height="4"/><rect x="847" y="360" width="1" height="12"/><rect x="846" y="363" width="3" height="3"/><rect x="854" y="365" width="3" height="9"/><rect x="860" y="360" width="1" height="20"/><rect x="859" y="371" width="3" height="6"/><rect x="864" y="373" width="1" height="23"/><rect x="863" y="376" width="3" height="20"/><rect x="881" y="376" width="3" height="12"/><rect x="886" y="382" width="1" height="14"/><rect x="885" y="387" width="3" height="6"/><rect x="908" y="414" width="1" height="15"/><rect x="907" y="417" width="3" height="6"/><rect x="912" y="409" width="1" height="20"/><rect x="911" y="419" width="3" height="7"/><rect x="917" y="419" width="1" height="15"/><rect x="916" y="422" width="3" height="12"/><rect x="921" y="430" width="1" height="34"/><rect x="920" y="433" width="3" height="31"/><rect x="929" y="457" width="3" height="12"/><rect x="934" y="465" width="1" height="12"/><rect x="933" y="468" width="3" height="7"/><rect x="939" y="471" width="1" height="31"/><rect x="938" y="474" width="3" height="25"/><rect x="943" y="498" width="1" height="17"/><rect x="942" y="501" width="3" height="14"/><rect x="952" y="492" width="1" height="42"/><rect x="951" y="498" width="3" height="33"/><rect x="969" y="449" width="1" height="15"/><rect x="968" y="455" width="3" height="6"/><rect x="974" y="457" width="1" height="12"/><rect x="973" y="460" width="3" height="9"/><rect x="978" y="465" width="1" height="10"/><rect x="977" y="468" width="3" height="7"/><rect x="982" y="471" width="1" height="28"/><rect x="981" y="474" width="3" height="22"/><rect x="995" y="492" width="1" height="20"/><rect x="994" y="495" width="3" height="4"/><rect x="1000" y="495" width="1" height="15"/><rect x="999" y="498" width="3" height="12"/><rect x="1004" y="503" width="1" height="18"/><rect x="1003" y="509" width="3" height="9"/><rect x="1009" y="506" width="1" height="23"/><rect x="1008" y="517" width="3" height="12"/><rect x="1035" y="606" width="1" height="33"/><rect x="1034" y="606" width="3" height="4"/><rect x="1044" y="565" width="1" height="10"/><rect x="1043" y="568" width="3" height="4"/><rect x="1048" y="568" width="1" height="42"/><rect x="1047" y="568" width="3" height="26"/><rect x="1057" y="557" width="1" height="23"/><rect x="1056" y="563" width="3" height="12"/><rect x="1074" y="541" width="1" height="23"/><rect x="1073" y="544" width="3" height="14"/><rect x="1079" y="568" width="1" height="23"/><rect x="1078" y="574" width="3" height="9"/><rect x="1083" y="576" width="1" height="18"/><rect x="1082" y="582" width="3" height="9"/><rect x="1086" y="590" width="3" height="9"/><rect x="1092" y="587" width="1" height="17"/><rect x="1091" y="598" width="3" height="4"/><rect x="1100" y="601" width="1" height="20"/><rect x="1099" y="601" width="3" height="3"/><rect x="1105" y="590" width="1" height="28"/><rect x="1104" y="603" width="3" height="4"/><rect x="1118" y="603" width="1" height="18"/><rect x="1117" y="603" width="3" height="15"/><rect x="1131" y="606" width="1" height="12"/><rect x="1130" y="609" width="3" height="3"/><rect x="1135" y="603" width="1" height="15"/><rect x="1134" y="611" width="3" height="4"/><rect x="1157" y="579" width="1" height="15"/><rect x="1156" y="582" width="3" height="12"/><rect x="1162" y="584" width="1" height="12"/><rect x="1161" y="593" width="3" height="3"/><rect x="1170" y="547" width="1" height="14"/><rect x="1169" y="547" width="3" height="11"/><rect x="1175" y="557" width="1" height="28"/><rect x="1174" y="557" width="3" height="23"/><rect x="1197" y="582" width="1" height="12"/><rect x="1196" y="582" width="3" height="3"/><rect x="1201" y="584" width="1" height="18"/><rect x="1200" y="584" width="3" height="15"/><rect x="1210" y="584" width="1" height="26"/><rect x="1209" y="587" width="3" height="12"/><rect x="1214" y="595" width="1" height="9"/><rect x="1213" y="598" width="3" height="6"/><rect x="1218" y="598" width="1" height="14"/><rect x="1217" y="603" width="3" height="4"/><rect x="1222" y="606" width="3" height="17"/><rect x="1227" y="620" width="1" height="19"/><rect x="1226" y="622" width="3" height="17"/><rect x="1232" y="660" width="1" height="66"/><rect x="1231" y="660" width="3" height="50"/><rect x="1245" y="666" width="1" height="33"/><rect x="1244" y="682" width="3" height="6"/><rect x="1249" y="679" width="1" height="20"/><rect x="1248" y="690" width="3" height="9"/><rect x="1253" y="647" width="1" height="20"/><rect x="1252" y="655" width="3" height="6"/><rect x="1262" y="628" width="1" height="11"/><rect x="1261" y="628" width="3" height="6"/><rect x="1267" y="633" width="1" height="15"/><rect x="1266" y="636" width="3" height="9"/><rect x="1297" y="611" width="1" height="28"/><rect x="1296" y="614" width="3" height="23"/><rect x="1305" y="630" width="3" height="9"/><rect x="1323" y="614" width="1" height="15"/><rect x="1322" y="620" width="3" height="3"/><rect x="1350" y="606" width="1" height="12"/><rect x="1349" y="606" width="3" height="9"/><rect x="1357" y="576" width="3" height="39"/><rect x="1371" y="590" width="3" height="4"/><rect x="1376" y="590" width="1" height="20"/><rect x="1375" y="593" width="3" height="11"/><rect x="1385" y="547" width="1" height="28"/><rect x="1384" y="552" width="3" height="14"/><rect x="1389" y="563" width="1" height="14"/><rect x="1388" y="565" width="3" height="12"/><rect x="1402" y="568" width="1" height="9"/><rect x="1401" y="574" width="3" height="3"/><rect x="1407" y="587" width="1" height="20"/><rect x="1406" y="593" width="3" height="3"/><rect x="1415" y="593" width="1" height="9"/><rect x="1414" y="595" width="3" height="7"/><rect x="1420" y="598" width="1" height="14"/><rect x="1419" y="601" width="3" height="9"/></g>
<g class="g"><rect x="10" y="601" width="1" height="1" opacity=".5"/><rect x="13" y="601" width="1" height="1"/><rect x="16" y="601" width="1" height="1"/><rect x="19" y="601" width="1" height="1"/><rect x="22" y="601" width="1" height="1"/><rect x="25" y="601" width="1" height="1"/><rect x="28" y="601" width="1" height="1"/><rect x="31" y="601" width="1" height="1"/><rect x="34" y="601" width="1" height="1"/><rect x="37" y="601" width="1" height="1"/><rect x="40" y="601" width="1" height="1"/><rect x="43" y="601" width="1" height="1"/><rect x="46" y="601" width="1" height="1"/><rect x="49" y="601" width="1" height="1"/><rect x="52" y="601" width="1" height="1"/><rect x="55" y="601" width="1" height="1"/><rect x="58" y="601" width="1" height="1"/><rect x="61" y="601" width="1" height="1"/><rect x="64" y="601" width="1" height="1"/><rect x="67" y="601" width="1" height="1"/><rect x="70" y="601" width="1" height="1"/><rect x="73" y="601" width="1" height="1"/><rect x="76" y="601" width="1" height="1"/><rect x="79" y="601" width="1" height="1"/><rect x="82" y="601" width="1" height="1"/><rect x="85" y="601" width="1" height="1"/><rect x="88" y="601" width="1" height="1"/><rect x="91" y="601" width="1" height="1"/><rect x="94" y="601" width="1" height="1"/><rect x="97" y="601" width="1" height="1"/><rect x="100" y="601" width="1" height="1"/><rect x="103" y="601" width="1" height="1"/><rect x="106" y="601" width="1" height="1"/><rect x="109" y="601" width="1" height="1"/><rect x="112" y="601" width="1" height="1"/><rect x="115" y="601" width="1" height="1"/><rect x="118" y="601" width="1" height="1"/><rect x="121" y="601" width="1" height="1"/><rect x="124" y="601" width="1" height="1"/><rect x="127" y="601" width="1" height="1"/><rect x="130" y="601" width="1" height="1"/><rect x="133" y="601" width="1" height="1"/><rect x="136" y="601" width="1" height="1"/><rect x="139" y="601" width="1" height="1"/><rect x="142" y="601" width="1" height="1"/><rect x="145" y="601" width="1" height="1"/><rect x="148" y="601" width="1" height="1"/><rect x="151" y="601" width="1" height="1"/><rect x="154" y="601" width="1" height="1"/><rect x="157" y="601" width="1" height="1"/><rect x="160" y="601" width="1" height="1"/><rect x="163" y="601" width="1" height="1"/><rect x="166" y="601" width="1" height="1"/><rect x="169" y="601" width="1" height="1"/><rect x="172" y="601" width="1" height="1"/><rect x="175" y="601" width="1" height="1"/><rect x="178" y="601" width="1" height="1"/><rect x="181" y="601" width="1" height="1"/><rect x="184" y="601" width="1" height="1"/><rect x="187" y="601" width="1" height="1"/><rect x="190" y="601" width="1" height="1"/><rect x="193" y="601" width="1" height="1"/><rect x="196" y="601" width="1" height="1"/><rect x="199" y="601" width="1" height="1"/><rect x="202" y="601" width="1" height="1"/><rect x="205" y="601" width="1" height="1"/><rect x="208" y="601" width="1" height="1"/><rect x="211" y="601" width="1" height="1"/><rect x="214" y="601" width="1" height="1"/><rect x="217" y="601" width="1" height="1"/><rect x="220" y="601" width="1" height="1"/><rect x="223" y="601" width="1" height="1"/><rect x="226" y="601" width="1" height="1"/><rect x="229" y="601" width="1" height="1"/><rect x="232" y="601" width="1" height="1"/><rect x="235" y="601" width="1" height="1"/><rect x="238" y="601" width="1" height="1"/><rect x="241" y="601" width="1" height="1"/><rect x="244" y="601" width="1" height="1"/><rect x="247" y="601" width="1" height="1"/><rect x="250" y="601" width="1" height="1"/><rect x="253" y="601" width="1" height="1"/><rect x="256" y="601" width="1" height="1"/><rect x="259" y="601" width="1" height="1"/><rect x="262" y="601" width="1" height="1"/><rect x="265" y="601" width="1" height="1"/><rect x="268" y="601" width="1" height="1"/><rect x="271" y="601" width="1" height="1"/><rect x="274" y="601" width="1" height="1"/><rect x="277" y="601" width="1" height="1"/><rect x="280" y="601" width="1" height="1"/><rect x="283" y="601" width="1" height="1"/><rect x="286" y="601" width="1" height="1"/><rect x="289" y="601" width="1" height="1"/><rect x="292" y="601" width="1" height="1"/><rect x="295" y="601" width="1" height="1"/><rect x="298" y="601" width="1" height="1"/><rect x="301" y="601" width="1" height="1"/><rect x="304" y="601" width="1" height="1"/><rect x="307" y="601" width="1" height="1"/><rect x="310" y="601" width="1" height="1"/><rect x="313" y="601" width="1" height="1"/><rect x="316" y="601" width="1" height="1"/><rect x="319" y="601" width="1" height="1"/><rect x="322" y="601" width="1" height="1"/><rect x="325" y="601" width="1" height="1"/><rect x="328" y="601" width="1" height="1"/><rect x="331" y="601" width="1" height="1"/><rect x="334" y="601" width="1" height="1"/><rect x="337" y="601" width="1" height="1"/><rect x="340" y="601" width="1" height="1"/><rect x="343" y="601" width="1" height="1"/><rect x="346" y="601" width="1" height="1"/><rect x="349" y="601" width="1" height="1"/><rect x="352" y="601" width="1" height="1"/><rect x="355" y="601" width="1" height="1"/><rect x="358" y="601" width="1" height="1"/><rect x="361" y="601" width="1" height="1"/><rect x="364" y="601" width="1" height="1"/><rect x="367" y="601" width="1" height="1"/><rect x="370" y="601" width="1" height="1"/><rect x="373" y="601" width="1" height="1"/><rect x="376" y="601" width="1" height="1"/><rect x="379" y="601" width="1" height="1"/><rect x="382" y="601" width="1" height="1"/><rect x="385" y="601" width="1" height="1"/><rect x="388" y="601" width="1" height="1"/><rect x="391" y="601" width="1" height="1"/><rect x="394" y="601" width="1" height="1"/><rect x="397" y="601" width="1" height="1"/><rect x="400" y="601" width="1" height="1"/><rect x="403" y="601" width="1" height="1"/><rect x="406" y="601" width="1" height="1"/><rect x="409" y="601" width="1" height="1"/><rect x="412" y="601" width="1" height="1"/><rect x="415" y="601" width="1" height="1"/><rect x="418" y="601" width="1" height="1"/><rect x="421" y="601" width="1" height="1"/><rect x="424" y="601" width="1" height="1"/><rect x="427" y="601" width="1" height="1"/><rect x="430" y="601" width="1" height="1"/><rect x="433" y="601" width="1" height="1"/><rect x="436" y="601" width="1" height="1"/><rect x="439" y="601" width="1" height="1"/><rect x="442" y="601" width="1" height="1"/><rect x="445" y="601" width="1" height="1"/><rect x="448" y="601" width="1" height="1"/><rect x="451" y="601" width="1" height="1"/><rect x="454" y="601" width="1" height="1"/><rect x="457" y="601" width="1" height="1"/><rect x="460" y="601" width="1" height="1"/><rect x="463" y="601" width="1" height="1"/><rect x="466" y="601" width="1" height="1"/><rect x="469" y="601" width="1" height="1"/><rect x="472" y="601" width="1" height="1"/><rect x="475" y="601" width="1" height="1"/><rect x="478" y="601" width="1" height="1"/><rect x="481" y="601" width="1" height="1"/><rect x="484" y="601" width="1" height="1"/><rect x="487" y="601" width="1" height="1"/><rect x="490" y="601" width="1" height="1"/><rect x="493" y="601" width="1" height="1"/><rect x="496" y="601" width="1" height="1"/><rect x="499" y="601" width="1" height="1"/><rect x="502" y="601" width="1" height="1"/><rect x="505" y="601" width="1" height="1"/><rect x="508" y="601" width="1" height="1"/><rect x="511" y="601" width="1" height="1"/><rect x="514" y="601" width="1" height="1"/><rect x="517" y="601" width="1" height="1"/><rect x="520" y="601" width="1" height="1"/><rect x="523" y="601" width="1" height="1"/><rect x="526" y="601" width="1" height="1"/><rect x="529" y="601" width="1" height="1"/><rect x="532" y="601" width="1" height="1"/><rect x="535" y="601" width="1" height="1"/><rect x="538" y="601" width="1" height="1"/><rect x="541" y="601" width="1" height="1"/><rect x="544" y="601" width="1" height="1"/><rect x="547" y="601" width="1" height="1"/><rect x="550" y="601" width="1" height="1"/><rect x="553" y="601" width="1" height="1"/><rect x="556" y="601" width="1" height="1"/><rect x="559" y="601" width="1" height="1"/><rect x="562" y="601" width="1" height="1"/><rect x="565" y="601" width="1" height="1"/><rect x="568" y="601" width="1" height="1"/><rect x="571" y="601" width="1" height="1"/><rect x="574" y="601" width="1" height="1"/><rect x="577" y="601" width="1" height="1"/><rect x="580" y="601" width="1" height="1"/><rect x="583" y="601" width="1" height="1"/><rect x="586" y="601" width="1" height="1"/><rect x="589" y="601" width="1" height="1"/><rect x="592" y="601" width="1" height="1"/><rect x="595" y="601" width="1" height="1"/><rect x="598" y="601" width="1" height="1"/><rect x="601" y="601" width="1" height="1"/><rect x="604" y="601" width="1" height="1"/><rect x="607" y="601" width="1" height="1"/><rect x="610" y="601" width="1" height="1"/><rect x="613" y="601" width="1" height="1"/><rect x="616" y="601" width="1" height="1"/><rect x="619" y="601" width="1" height="1"/><rect x="622" y="601" width="1" height="1"/><rect x="625" y="601" width="1" height="1"/><rect x="628" y="601" width="1" height="1"/><rect x="631" y="601" width="1" height="1"/><rect x="634" y="601" width="1" height="1"/><rect x="637" y="601" width="1" height="1"/><rect x="640" y="601" width="1" height="1"/><rect x="643" y="601" width="1" height="1"/><rect x="646" y="601" width="1" height="1"/><rect x="649" y="601" width="1" height="1"/><rect x="652" y="601" width="1" height="1"/><rect x="655" y="601" width="1" height="1"/><rect x="658" y="601" width="1" height="1"/><rect x="661" y="601" width="1" height="1"/><rect x="664" y="601" width="1" height="1"/><rect x="667" y="601" width="1" height="1"/><rect x="670" y="601" width="1" height="1"/><rect x="673" y="601" width="1" height="1"/><rect x="676" y="601" width="1" height="1"/><rect x="679" y="601" width="1" height="1"/><rect x="682" y="601" width="1" height="1"/><rect x="685" y="601" width="1" height="1"/><rect x="688" y="601" width="1" height="1"/><rect x="691" y="601" width="1" height="1"/><rect x="694" y="601" width="1" height="1"/><rect x="697" y="601" width="1" height="1"/><rect x="700" y="601" width="1" height="1"/><rect x="703" y="601" width="1" height="1"/><rect x="706" y="601" width="1" height="1"/><rect x="709" y="601" width="1" height="1"/><rect x="712" y="601" width="1" height="1"/><rect x="715" y="601" width="1" height="1"/><rect x="718" y="601" width="1" height="1"/><rect x="721" y="601" width="1" height="1"/><rect x="724" y="601" width="1" height="1"/><rect x="727" y="601" width="1" height="1"/><rect x="730" y="601" width="1" height="1"/><rect x="733" y="601" width="1" height="1"/><rect x="736" y="601" width="1" height="1"/><rect x="739" y="601" width="1" height="1"/><rect x="742" y="601" width="1" height="1"/><rect x="745" y="601" width="1" height="1"/><rect x="748" y="601" width="1" height="1"/><rect x="751" y="601" width="1" height="1"/><rect x="754" y="601" width="1" height="1"/><rect x="757" y="601" width="1" height="1"/><rect x="760" y="601" width="1" height="1"/><rect x="763" y="601" width="1" height="1"/><rect x="766" y="601" width="1" height="1"/><rect x="769" y="601" width="1" height="1"/><rect x="772" y="601" width="1" height="1"/><rect x="775" y="601" width="1" height="1"/><rect x="778" y="601" width="1" height="1"/><rect x="781" y="601" width="1" height="1"/><rect x="784" y="601" width="1" height="1"/><rect x="787" y="601" width="1" height="1"/><rect x="790" y="601" width="1" height="1"/><rect x="793" y="601" width="1" height="1"/><rect x="796" y="601" width="1" height="1"/><rect x="799" y="601" width="1" height="1"/><rect x="802" y="601" width="1" height="1"/><rect x="805" y="601" width="1" height="1"/><rect x="808" y="601" width="1" height="1"/><rect x="811" y="601" width="1" height="1"/><rect x="814" y="601" width="1" height="1"/><rect x="817" y="601" width="1" height="1"/><rect x="820" y="601" width="1" height="1"/><rect x="823" y="601" width="1" height="1"/><rect x="826" y="601" width="1" height="1"/><rect x="829" y="601" width="1" height="1"/><rect x="832" y="601" width="1" height="1"/><rect x="835" y="601" width="1" height="1"/><rect x="838" y="601" width="1" height="1"/><rect x="841" y="601" width="1" height="1"/><rect x="844" y="601" width="1" height="1"/><rect x="847" y="601" width="1" height="1"/><rect x="850" y="601" width="1" height="1"/><rect x="853" y="601" width="1" height="1"/><rect x="856" y="601" width="1" height="1"/><rect x="859" y="601" width="1" height="1"/><rect x="862" y="601" width="1" height="1"/><rect x="865" y="601" width="1" height="1"/><rect x="868" y="601" width="1" height="1"/><rect x="871" y="601" width="1" height="1"/><rect x="874" y="601" width="1" height="1"/><rect x="877" y="601" width="1" height="1"/><rect x="880" y="601" width="1" height="1"/><rect x="883" y="601" width="1" height="1"/><rect x="886" y="601" width="1" height="1"/><rect x="889" y="601" width="1" height="1"/><rect x="892" y="601" width="1" height="1"/><rect x="895" y="601" width="1" height="1"/><rect x="898" y="601" width="1" height="1"/><rect x="901" y="601" width="1" height="1"/><rect x="904" y="601" width="1" height="1"/><rect x="907" y="601" width="1" height="1"/><rect x="910" y="601" width="1" height="1"/><rect x="913" y="601" width="1" height="1"/><rect x="916" y="601" width="1" height="1"/><rect x="919" y="601" width="1" height="1"/><rect x="922" y="601" width="1" height="1"/><rect x="925" y="601" width="1" height="1"/><rect x="928" y="601" width="1" height="1"/><rect x="931" y="601" width="1" height="1"/><rect x="934" y="601" width="1" height="1"/><rect x="937" y="601" width="1" height="1"/><rect x="940" y="601" width="1" height="1"/><rect x="943" y="601" width="1" height="1"/><rect x="946" y="601" width="1" height="1"/><rect x="949" y="601" width="1" height="1"/><rect x="952" y="601" width="1" height="1"/><rect x="955" y="601" width="1" height="1"/><rect x="958" y="601" width="1" height="1"/><rect x="961" y="601" width="1" height="1"/><rect x="964" y="601" width="1" height="1"/><rect x="967" y="601" width="1" height="1"/><rect x="970" y="601" width="1" height="1"/><rect x="973" y="601" width="1" height="1"/><rect x="976" y="601" width="1" height="1"/><rect x="979" y="601" width="1" height="1"/><rect x="982" y="601" width="1" height="1"/><rect x="985" y="601" width="1" height="1"/><rect x="988" y="601" width="1" height="1"/><rect x="991" y="601" width="1" height="1"/><rect x="994" y="601" width="1" height="1"/><rect x="997" y="601" width="1" height="1"/><rect x="1000" y="601" width="1" height="1"/><rect x="1003" y="601" width="1" height="1"/><rect x="1006" y="601" width="1" height="1"/><rect x="1009" y="601" width="1" height="1"/><rect x="1012" y="601" width="1" height="1"/><rect x="1015" y="601" width="1" height="1"/><rect x="1018" y="601" width="1" height="1"/><rect x="1021" y="601" width="1" height="1"/><rect x="1024" y="601" width="1" height="1"/><rect x="1027" y="601" width="1" height="1"/><rect x="1030" y="601" width="1" height="1"/><rect x="1033" y="601" width="1" height="1"/><rect x="1036" y="601" width="1" height="1"/><rect x="1039" y="601" width="1" height="1"/><rect x="1042" y="601" width="1" height="1"/><rect x="1045" y="601" width="1" height="1"/><rect x="1048" y="601" width="1" height="1"/><rect x="1051" y="601" width="1" height="1"/><rect x="1054" y="601" width="1" height="1"/><rect x="1057" y="601" width="1" height="1"/><rect x="1060" y="601" width="1" height="1"/><rect x="1063" y="601" width="1" height="1"/><rect x="1066" y="601" width="1" height="1"/><rect x="1069" y="601" width="1" height="1"/><rect x="1072" y="601" width="1" height="1"/><rect x="1075" y="601" width="1" height="1"/><rect x="1078" y="601" width="1" height="1"/><rect x="1081" y="601" width="1" height="1"/><rect x="1084" y="601" width="1" height="1"/><rect x="1087" y="601" width="1" height="1"/><rect x="1090" y="601" width="1" height="1"/><rect x="1093" y="601" width="1" height="1"/><rect x="1096" y="601" width="1" height="1"/><rect x="1099" y="601" width="1" height="1"/><rect x="1102" y="601" width="1" height="1"/><rect x="1105" y="601" width="1" height="1"/><rect x="1108" y="601" width="1" height="1"/><rect x="1111" y="601" width="1" height="1"/><rect x="1114" y="601" width="1" height="1"/><rect x="1117" y="601" width="1" height="1"/><rect x="1120" y="601" width="1" height="1"/><rect x="1123" y="601" width="1" height="1"/><rect x="1126" y="601" width="1" height="1"/><rect x="1129" y="601" width="1" height="1"/><rect x="1132" y="601" width="1" height="1"/><rect x="1135" y="601" width="1" height="1"/><rect x="1138" y="601" width="1" height="1"/><rect x="1141" y="601" width="1" height="1"/><rect x="1144" y="601" width="1" height="1"/><rect x="1147" y="601" width="1" height="1"/><rect x="1150" y="601" width="1" height="1"/><rect x="1153" y="601" width="1" height="1"/><rect x="1156" y="601" width="1" height="1"/><rect x="1159" y="601" width="1" height="1"/><rect x="1162" y="601" width="1" height="1"/><rect x="1165" y="601" width="1" height="1"/><rect x="1168" y="601" width="1" height="1"/><rect x="1171" y="601" width="1" height="1"/><rect x="1174" y="601" width="1" height="1"/><rect x="1177" y="601" width="1" height="1"/><rect x="1180" y="601" width="1" height="1"/><rect x="1183" y="601" width="1" height="1"/><rect x="1186" y="601" width="1" height="1"/><rect x="1189" y="601" width="1" height="1"/><rect x="1192" y="601" width="1" height="1"/><rect x="1195" y="601" width="1" height="1"/><rect x="1198" y="601" width="1" height="1"/><rect x="1201" y="601" width="1" height="1"/><rect x="1204" y="601" width="1" height="1"/><rect x="1207" y="601" width="1" height="1"/><rect x="1210" y="601" width="1" height="1"/><rect x="1213" y="601" width="1" height="1"/><rect x="1216" y="601" width="1" height="1"/><rect x="1219" y="601" width="1" height="1"/><rect x="1222" y="601" width="1" height="1"/><rect x="1225" y="601" width="1" height="1"/><rect x="1228" y="601" width="1" height="1"/><rect x="1231" y="601" width="1" height="1"/><rect x="1234" y="601" width="1" height="1"/><rect x="1237" y="601" width="1" height="1"/><rect x="1240" y="601" width="1" height="1"/><rect x="1243" y="601" width="1" height="1"/><rect x="1246" y="601" width="1" height="1"/><rect x="1249" y="601" width="1" height="1"/><rect x="1252" y="601" width="1" height="1"/><rect x="1255" y="601" width="1" height="1"/><rect x="1258" y="601" width="1" height="1"/><rect x="1261" y="601" width="1" height="1"/><rect x="1264" y="601" width="1" height="1"/><rect x="1267" y="601" width="1" height="1"/><rect x="1270" y="601" width="1" height="1"/><rect x="1273" y="601" width="1" height="1"/><rect x="1276" y="601" width="1" height="1"/><rect x="1279" y="601" width="1" height="1"/><rect x="1282" y="601" width="1" height="1"/><rect x="1285" y="601" width="1" height="1"/><rect x="1288" y="601" width="1" height="1"/><rect x="1291" y="601" width="1" height="1"/><rect x="1294" y="601" width="1" height="1"/><rect x="1297" y="601" width="1" height="1"/><rect x="1300" y="601" width="1" height="1"/><rect x="1303" y="601" width="1" height="1"/><rect x="1306" y="601" width="1" height="1"/><rect x="1309" y="601" width="1" height="1"/><rect x="1312" y="601" width="1" height="1"/><rect x="1315" y="601" width="1" height="1"/><rect x="1318" y="601" width="1" height="1"/><rect x="1321" y="601" width="1" height="1"/><rect x="1324" y="601" width="1" height="1"/><rect x="1327" y="601" width="1" height="1"/><rect x="1330" y="601" width="1" height="1"/><rect x="1333" y="601" width="1" height="1"/><rect x="1336" y="601" width="1" height="1"/><rect x="1339" y="601" width="1" height="1"/><rect x="1342" y="601" width="1" height="1"/><rect x="1345" y="601" width="1" height="1"/><rect x="1348" y="601" width="1" height="1"/><rect x="1351" y="601" width="1" height="1"/><rect x="1354" y="601" width="1" height="1"/><rect x="1357" y="601" width="1" height="1"/><rect x="1360" y="601" width="1" height="1"/><rect x="1363" y="601" width="1" height="1"/><rect x="1366" y="601" width="1" height="1"/><rect x="1369" y="601" width="1" height="1"/><rect x="1372" y="601" width="1" height="1"/><rect x="1375" y="601" width="1" height="1"/><rect x="1378" y="601" width="1" height="1"/><rect x="1381" y="601" width="1" height="1"/><rect x="1384" y="601" width="1" height="1"/><rect x="1387" y="601" width="1" height="1"/><rect x="1390" y="601" width="1" height="1"/><rect x="1393" y="601" width="1" height="1"/><rect x="1396" y="601" width="1" height="1"/><rect x="1399" y="601" width="1" height="1"/><rect x="1402" y="601" width="1" height="1"/><rect x="1405" y="601" width="1" height="1"/><rect x="1408" y="601" width="1" height="1"/><rect x="1411" y="601" width="1" height="1"/><rect x="1414" y="601" width="1" height="1"/><rect x="1417" y="601" width="1" height="1"/><rect x="1420" y="601" width="1" height="1"/><rect x="1423" y="601" width="1" height="1"/><rect x="1426" y="601" width="1" height="1"/><rect x="1429" y="601" width="1" height="1"/><rect x="1432" y="601" width="1" height="1"/><rect x="1435" y="601" width="1" height="1"/><rect x="1438" y="601" width="1" height="1"/><rect x="1441" y="601" width="1" height="1"/><rect x="1444" y="601" width="1" height="1"/><rect x="1447" y="601" width="1" height="1"/><rect x="1450" y="601" width="1" height="1"/><rect x="1453" y="601" width="1" height="1"/><rect x="1456" y="601" width="1" height="1"/><rect x="1459" y="601" width="1" height="1"/><rect x="1462" y="601" width="1" height="1"/><rect x="1465" y="601" width="1" height="1"/><rect x="1468" y="601" width="1" height="1"/></g>
</g>
<text x="18.3" y="46.0" textLength="405.3" lengthAdjust="spacingAndGlyphs">NGÂN HÀNG THƯƠNG MẠI CỔ PHẦN CÔNG THƯƠNG VIỆT NAM · 1h · HOSE</text>
<text x="432.1" y="46.0" textLength="7.5" lengthAdjust="spacingAndGlyphs">O</text>
<text x="440.5" y="46.0" textLength="34.8" lengthAdjust="spacingAndGlyphs" style="fill:#089981;stroke:#089981;">34,150</text>
<text x="483.6" y="46.0" textLength="6.4" lengthAdjust="spacingAndGlyphs">H</text>
<text x="491.4" y="46.0" textLength="34.8" lengthAdjust="spacingAndGlyphs" style="fill:#089981;stroke:#089981;">34,400</text>
<text x="534.8" y="46.0" textLength="4.5" lengthAdjust="spacingAndGlyphs">L</text>
<text x="540.7" y="46.0" textLength="34.8" lengthAdjust="spacingAndGlyphs" style="fill:#089981;stroke:#089981;">34,100</text>
<text x="583.3" y="46.0" textLength="6.5" lengthAdjust="spacingAndGlyphs">C</text>
<text x="590.7" y="46.0" textLength="34.7" lengthAdjust="spacingAndGlyphs" style="fill:#089981;stroke:#089981;">34,300</text>
<text x="633.8" y="46.0" textLength="73.3" lengthAdjust="spacingAndGlyphs" style="fill:#089981;stroke:#089981;">+150 (+0.44%)</text>
<text x="18.3" y="63.3" textLength="58.6" lengthAdjust="spacingAndGlyphs">Khối lượng</text>
<text x="85.4" y="63.3" textLength="32.6" lengthAdjust="spacingAndGlyphs" style="fill:#26a69a;stroke:#26a69a;">1.48 M</text>
<text x="1479.0" y="79.0" textLength="35.7" lengthAdjust="spacingAndGlyphs">44,000</text>
<text x="1479.0" y="133.0" textLength="35.7" lengthAdjust="spacingAndGlyphs">43,000</text>
<text x="1479.0" y="187.0" textLength="35.7" lengthAdjust="spacingAndGlyphs">42,000</text>
<text x="1479.0" y="241.0" textLength="35.7" lengthAdjust="spacingAndGlyphs">41,000</text>
<text x="1479.0" y="295.0" textLength="35.7" lengthAdjust="spacingAndGlyphs">40,000</text>
<text x="1479.0" y="349.0" textLength="35.7" lengthAdjust="spacingAndGlyphs">39,000</text>
<text x="1479.0" y="404.0" textLength="35.7" lengthAdjust="spacingAndGlyphs">38,000</text>
<text x="1479.0" y="458.0" textLength="35.7" lengthAdjust="spacingAndGlyphs">37,000</text>
<text x="1479.0" y="512.0" textLength="35.7" lengthAdjust="spacingAndGlyphs">36,000</text>
<text x="1479.0" y="566.0" textLength="35.7" lengthAdjust="spacingAndGlyphs">35,000</text>
<text x="1479.0" y="620.0" textLength="35.7" lengthAdjust="spacingAndGlyphs">34,000</text>
<text x="1479.0" y="674.0" textLength="35.7" lengthAdjust="spacingAndGlyphs">33,000</text>
<text x="1479.0" y="728.0" textLength="35.7" lengthAdjust="spacingAndGlyphs">32,000</text>
<text x="1479.0" y="782.0" textLength="35.7" lengthAdjust="spacingAndGlyphs">31,000</text>
<path d="M1471 764h45a2 2 0 0 1 2 2v13a2 2 0 0 1 -2 2h-45z" fill="#26a69a"/>
<text x="1479.6" y="776.7" textLength="33.0" lengthAdjust="spacingAndGlyphs" style="fill:#fff;stroke:#fff;">1.48 M</text>
<path d="M1471 593h47a2 2 0 0 1 2 2v13a2 2 0 0 1 -2 2h-47z" fill="#089981"/>
<text x="1479.0" y="605.0" textLength="35.7" lengthAdjust="spacingAndGlyphs" style="fill:#fff;stroke:#fff;">34,300</text>
<text x="29.1" y="805.0" textLength="11.8" lengthAdjust="spacingAndGlyphs" text-anchor="middle">25</text>
<text x="138.1" y="805.0" textLength="27.3" lengthAdjust="spacingAndGlyphs" text-anchor="middle" style="font-weight:bold;">2026</text>
<text x="204.1" y="805.0" textLength="5.6" lengthAdjust="spacingAndGlyphs" text-anchor="middle">8</text>
<text x="269.1" y="805.0" textLength="11.8" lengthAdjust="spacingAndGlyphs" text-anchor="middle">13</text>
<text x="335.1" y="805.0" textLength="11.8" lengthAdjust="spacingAndGlyphs" text-anchor="middle">16</text>
<text x="401.1" y="805.0" textLength="11.8" lengthAdjust="spacingAndGlyphs" text-anchor="middle">21</text>
<text x="466.1" y="805.0" textLength="11.8" lengthAdjust="spacingAndGlyphs" text-anchor="middle">26</text>
<text x="576.1" y="805.0" textLength="52.8" lengthAdjust="spacingAndGlyphs" text-anchor="middle">Tháng Hai</text>
<text x="641.1" y="805.0" textLength="5.6" lengthAdjust="spacingAndGlyphs" text-anchor="middle">5</text>
<text x="707.1" y="805.0" textLength="11.8" lengthAdjust="spacingAndGlyphs" text-anchor="middle">10</text>
<text x="772.1" y="805.0" textLength="11.8" lengthAdjust="spacingAndGlyphs" text-anchor="middle">13</text>
<text x="838.1" y="805.0" textLength="11.8" lengthAdjust="spacingAndGlyphs" text-anchor="middle">25</text>
<text x="904.1" y="805.0" textLength="41.6" lengthAdjust="spacingAndGlyphs" text-anchor="middle">Tháng 3</text>
<text x="969.1" y="805.0" textLength="5.6" lengthAdjust="spacingAndGlyphs" text-anchor="middle">5</text>
<text x="1035.1" y="805.0" textLength="11.8" lengthAdjust="spacingAndGlyphs" text-anchor="middle">10</text>
<text x="1100.1" y="805.0" textLength="11.8" lengthAdjust="spacingAndGlyphs" text-anchor="middle">13</text>
<text x="1166.1" y="805.0" textLength="11.8" lengthAdjust="spacingAndGlyphs" text-anchor="middle">18</text>
<text x="1232.1" y="805.0" textLength="11.8" lengthAdjust="spacingAndGlyphs" text-anchor="middle">23</text>
<text x="1297.1" y="805.0" textLength="11.8" lengthAdjust="spacingAndGlyphs" text-anchor="middle">26</text>
<text x="1385.1" y="805.0" textLength="41.6" lengthAdjust="spacingAndGlyphs" text-anchor="middle">Tháng 4</text>
<text x="1455.1" y="805.0" textLength="5.6" lengthAdjust="spacingAndGlyphs" text-anchor="middle">6</text>
<circle cx="1424.6" cy="774.4" r="10.9" fill="#fff"/>
<circle cx="1424.6" cy="774.4" r="9.8" fill="#fff" stroke="#9c27b0" stroke-width="1.4"/>
<path d="M1427.9 769L1420.1 774.5L1424.3 774.9L1421.2 779.8L1428.9 774.3L1424.8 773.9Z" fill="#9c27b0" stroke="#9c27b0" stroke-width=".35" stroke-linejoin="round"/>
<g fill="#111"><path d="M12.1 837.1H23.8V852H17.9V842.6H12.1Z"/><circle cx="28.7" cy="839.75" r="2.6"/><path d="M33.75 837.1H41.7L36 852H28.6Z"/></g>
<text x="49.3" y="852.0" textLength="120.5" lengthAdjust="spacingAndGlyphs" style="font-size:20.8px;font-weight:bold;fill:#111;stroke:#111;">TradingView</text>
</svg>
</body></html>
